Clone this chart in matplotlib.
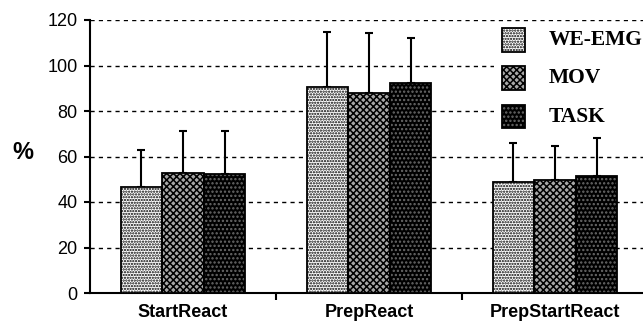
import matplotlib
matplotlib.use("Agg")
import matplotlib.pyplot as plt
import numpy as np
from matplotlib.patches import Rectangle

categories = ["StartReact", "PrepReact", "PrepStartReact"]
series = ["WE-EMG", "MOV", "TASK"]
we_emg = [46.7, 90.7, 48.9]
mov = [52.9, 88.0, 49.7]
task = [52.3, 92.2, 51.6]
we_emg_err = [16.2, 24.0, 16.9]
mov_err = [18.3, 26.3, 15.1]
task_err = [18.9, 20.0, 16.7]

values = [we_emg, mov, task]
errors = [we_emg_err, mov_err, task_err]
faces = ["white", "#a8a8a8", "black"]
hatch_cols = ["black", "black", "#6a6a6a"]
hatches = ["......", "xxxxx", "...."]

plt.rcParams["hatch.linewidth"] = 1.1
W, H = 643, 323
fig = plt.figure(figsize=(W / 100, H / 100), dpi=100)
ax = fig.add_axes([90 / W, 30 / H, 558 / W, 273 / H])

x = np.arange(len(categories))
w = 0.224
for i in range(3):
    pos = x + (i - 1) * w
    ax.bar(pos, values[i], w, color=faces[i], edgecolor=hatch_cols[i],
           hatch=hatches[i], linewidth=0, zorder=3)
    ax.bar(pos, values[i], w, fill=False, edgecolor="black", linewidth=1.3, zorder=4)
    ax.errorbar(pos, values[i], yerr=[np.zeros(3), errors[i]], fmt="none",
                ecolor="black", elinewidth=1.5, capsize=3, capthick=1.5, zorder=2)

ax.set_ylim(0, 120)
ax.set_xlim(-0.5, 2.5)
ax.set_yticks(range(0, 121, 20))
ax.yaxis.grid(True, linestyle=(0, (3, 3)), color="black", linewidth=1, zorder=0)
ax.set_axisbelow(True)
for s in ["top", "right"]:
    ax.spines[s].set_visible(False)
ax.spines["left"].set_linewidth(1.5)
ax.spines["bottom"].set_linewidth(1.5)
ax.set_xticks([0.5, 1.5])
ax.set_xticklabels([])
ax.tick_params(axis="x", length=5, width=1.5, direction="out")
ax.tick_params(axis="y", length=4, width=1.5, direction="out", labelsize=13, pad=5)
for lab in ax.get_yticklabels():
    lab.set_family("Liberation Sans")
for i, c in enumerate(categories):
    ax.text(i, -5, c, ha="center", va="top", fontsize=13, fontweight="bold",
            family="Liberation Sans")
fig.text(23 / W, 1 - 153 / H, "%", fontsize=17, fontweight="bold",
         family="Liberation Sans", ha="center", va="center")

# legend drawn by hand on a white block covering the grid
fig.add_artist(Rectangle((494 / W, 1 - 130 / H), 150 / W, 105 / H,
                         transform=fig.transFigure, facecolor="white",
                         edgecolor="none", zorder=5))
rows = [40, 78, 117]
for i in range(3):
    yc = 1 - rows[i] / H
    fig.add_artist(Rectangle((502 / W, yc - 11.5 / H), 23 / W, 23 / H,
                             transform=fig.transFigure, facecolor=faces[i],
                             edgecolor=hatch_cols[i], hatch=hatches[i],
                             linewidth=0, zorder=6))
    fig.add_artist(Rectangle((502 / W, yc - 11.5 / H), 23 / W, 23 / H,
                             transform=fig.transFigure, fill=False,
                             edgecolor="black", linewidth=1.3, zorder=7))
    fig.text(549 / W, yc, series[i], fontsize=15.5, fontweight="bold",
             family="Liberation Serif", va="center", ha="left", zorder=7)

fig.savefig("out.png", dpi=100)
